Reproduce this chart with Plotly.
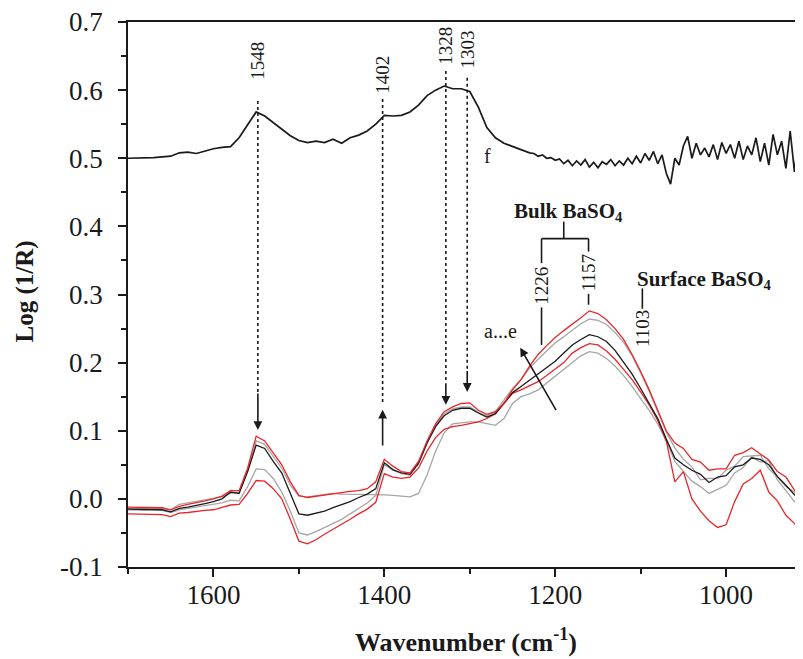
import plotly.graph_objects as go

# ---------------- data ----------------
wn = list(range(1700, 905, -10))  # 1700 ... 910

# a (gray) - lowest at 1157
curve_a = [-0.014, -0.014, -0.014, -0.013, -0.014, -0.016, -0.008, -0.006, -0.004, -0.002,
           0.000, 0.003, 0.008, 0.010, 0.040, 0.085, 0.080, 0.062, 0.045, 0.020,
           0.004, 0.003, 0.005, 0.007, 0.008, 0.007, 0.007, 0.006, 0.006, 0.006,
           0.006, 0.005, 0.004, 0.003, 0.008, 0.035, 0.070, 0.097, 0.110, 0.112,
           0.113, 0.113, 0.110, 0.108, 0.118, 0.140, 0.150, 0.154, 0.160, 0.170,
           0.180, 0.190, 0.200, 0.210, 0.216, 0.214, 0.206, 0.195, 0.181, 0.165,
           0.147, 0.130, 0.110, 0.085, 0.055, 0.040, 0.026, 0.018, 0.008, 0.014,
           0.020, 0.038, 0.046, 0.062, 0.054, 0.056, 0.028, 0.012, -0.004, -0.015]

# b (red)
curve_b = [-0.022, -0.022, -0.023, -0.022, -0.023, -0.026, -0.021, -0.020, -0.018, -0.017,
           -0.016, -0.013, -0.009, -0.008, 0.008, 0.027, 0.026, 0.015, 0.000, -0.030,
           -0.062, -0.066, -0.060, -0.052, -0.045, -0.038, -0.030, -0.022, -0.015, -0.005,
           0.037, 0.032, 0.030, 0.032, 0.045, 0.070, 0.090, 0.102, 0.106, 0.108,
           0.110, 0.113, 0.118, 0.125, 0.140, 0.155, 0.160, 0.166, 0.172, 0.181,
           0.190, 0.200, 0.214, 0.222, 0.228, 0.226, 0.217, 0.205, 0.190, 0.175,
           0.157, 0.138, 0.115, 0.085, 0.025, 0.040, 0.000, -0.018, -0.032, -0.042,
           -0.038, -0.004, 0.022, 0.030, 0.042, 0.010, -0.003, -0.024, -0.036, -0.053]

# c (black)
curve_c = [-0.015, -0.015, -0.016, -0.015, -0.016, -0.019, -0.014, -0.012, -0.010, -0.007,
           -0.004, 0.000, 0.010, 0.008, 0.040, 0.079, 0.074, 0.055, 0.038, 0.008,
           -0.022, -0.024, -0.021, -0.018, -0.013, -0.009, -0.004, 0.002, 0.007, 0.015,
           0.053, 0.043, 0.038, 0.036, 0.052, 0.082, 0.106, 0.122, 0.130, 0.133,
           0.133, 0.126, 0.120, 0.125, 0.140, 0.156, 0.165, 0.174, 0.183, 0.193,
           0.202, 0.214, 0.226, 0.234, 0.241, 0.238, 0.231, 0.218, 0.200, 0.183,
           0.162, 0.140, 0.118, 0.088, 0.060, 0.050, 0.042, 0.036, 0.024, 0.032,
           0.034, 0.047, 0.050, 0.060, 0.058, 0.050, 0.033, 0.020, 0.006, -0.004]

# d (gray)
curve_d = [-0.016, -0.017, -0.017, -0.016, -0.017, -0.020, -0.016, -0.014, -0.012, -0.010,
           -0.009, -0.006, -0.002, -0.003, 0.018, 0.044, 0.043, 0.030, 0.010, -0.018,
           -0.050, -0.053, -0.048, -0.042, -0.036, -0.030, -0.022, -0.014, -0.006, 0.005,
           0.050, 0.042, 0.037, 0.035, 0.052, 0.082, 0.108, 0.125, 0.132, 0.135,
           0.135, 0.127, 0.122, 0.128, 0.145, 0.162, 0.175, 0.192, 0.205, 0.217,
           0.229, 0.238, 0.248, 0.257, 0.264, 0.262, 0.256, 0.244, 0.230, 0.210,
           0.185, 0.158, 0.128, 0.098, 0.075, 0.058, 0.047, 0.028, 0.030, 0.030,
           0.042, 0.048, 0.062, 0.063, 0.064, 0.044, 0.032, 0.018, 0.010, -0.005]

# e (red) - highest at 1157
curve_e = [-0.012, -0.012, -0.013, -0.012, -0.013, -0.016, -0.011, -0.008, -0.006, -0.003,
           0.000, 0.004, 0.012, 0.012, 0.045, 0.092, 0.085, 0.068, 0.050, 0.025,
           0.005, 0.002, 0.004, 0.006, 0.008, 0.009, 0.011, 0.012, 0.015, 0.025,
           0.058, 0.048, 0.040, 0.038, 0.055, 0.085, 0.110, 0.128, 0.135, 0.140,
           0.141, 0.130, 0.124, 0.128, 0.140, 0.160, 0.175, 0.195, 0.212, 0.225,
           0.237, 0.247, 0.256, 0.266, 0.276, 0.272, 0.263, 0.250, 0.234, 0.212,
           0.187, 0.160, 0.130, 0.100, 0.082, 0.074, 0.058, 0.054, 0.042, 0.044,
           0.044, 0.064, 0.068, 0.075, 0.066, 0.057, 0.040, 0.032, 0.013, 0.000]

wn_f = list(range(1700, 1255, -10)) + list(range(1250, 905, -5))
curve_f = [0.500, 0.500, 0.501, 0.501, 0.502, 0.503, 0.508, 0.509, 0.507, 0.511,
           0.514, 0.516, 0.517, 0.530, 0.550, 0.568, 0.562, 0.552, 0.542, 0.533,
           0.526, 0.523, 0.525, 0.523, 0.528, 0.522, 0.530, 0.534, 0.540, 0.550,
           0.563, 0.562, 0.563, 0.568, 0.578, 0.592, 0.600, 0.606, 0.602, 0.602,
           0.598, 0.575, 0.545, 0.530, 0.522,
           0.517, 0.515, 0.512, 0.510, 0.508, 0.507, 0.503, 0.505, 0.500, 0.501,
           0.497, 0.499, 0.492, 0.497, 0.489, 0.496, 0.490, 0.498, 0.487, 0.494,
           0.486, 0.495, 0.491, 0.498, 0.489, 0.496, 0.490, 0.500, 0.492, 0.503,
           0.493, 0.507, 0.497, 0.510, 0.492, 0.505, 0.478, 0.462, 0.500, 0.490,
           0.518, 0.532, 0.500, 0.522, 0.505, 0.515, 0.502, 0.520, 0.498, 0.523,
           0.507, 0.520, 0.500, 0.525, 0.498, 0.518, 0.505, 0.530, 0.495, 0.522,
           0.490, 0.535, 0.505, 0.525, 0.485, 0.540, 0.480, 0.538, 0.520]

peak_wn = [1548, 1402, 1328, 1303]
peak_labels = ["1548", "1402", "1328", "1303"]

y_ticks = [-0.1, 0.0, 0.1, 0.2, 0.3, 0.4, 0.5, 0.6, 0.7]
y_ticktext = ["-0.1", "0.0", "0.1", "0.2", "0.3", "0.4", "0.5", "0.6", "0.7"]
x_ticks = [1600, 1400, 1200, 1000]
x_ticktext = ["1600", "1400", "1200", "1000"]

# ---------------- styles ----------------
RED = "#e8262a"
GRAY = "#a6a6a6"
BLACK = "#1a1a1a"
FONT = "Liberation Serif"

fig = go.Figure()
series = [
    (curve_a, GRAY, 1.3),
    (curve_d, GRAY, 1.3),
    (curve_b, RED, 1.3),
    (curve_c, BLACK, 1.3),
    (curve_e, RED, 1.3),
]
for vals, col, w in series:
    fig.add_trace(go.Scatter(x=wn, y=vals, mode="lines",
                             line=dict(color=col, width=w), showlegend=False,
                             hoverinfo="skip"))
fig.add_trace(go.Scatter(x=wn_f, y=curve_f, mode="lines",
                         line=dict(color=BLACK, width=1.7), showlegend=False,
                         hoverinfo="skip"))

shapes = []
annotations = []

# dotted guide lines + arrows for peaks
dot_top = [0.584, 0.587, 0.628, 0.618]
dot_bot = [0.157, 0.140, 0.172, 0.190]
arrow_tail = [0.157, 0.076, 0.172, 0.190]
arrow_tip = [0.101, 0.131, 0.138, 0.157]
label_y = [0.643, 0.622, 0.665, 0.660]
for w_, t, b, at, ah, ly, lab in zip(peak_wn, dot_top, dot_bot, arrow_tail,
                                      arrow_tip, label_y, peak_labels):
    shapes.append(dict(type="line", xref="x", yref="y", x0=w_, x1=w_, y0=t, y1=b,
                       line=dict(color=BLACK, width=1.6, dash="dot")))
    annotations.append(dict(x=w_, y=ah, ax=w_, ay=at, xref="x", yref="y",
                            axref="x", ayref="y", text="", showarrow=True,
                            arrowhead=2, arrowsize=1.1, arrowwidth=1.6,
                            arrowcolor=BLACK))
    annotations.append(dict(x=w_, y=ly, xref="x", yref="y", text=lab,
                            showarrow=False, textangle=-90,
                            font=dict(family=FONT, size=19, color=BLACK)))

# Bulk BaSO4 bracket
bl, br, bm = 1216, 1161, 1190
line_style = dict(color=BLACK, width=1.6)
for x0, x1, y0, y1 in [(bl, br, 0.382, 0.382), (bm, bm, 0.382, 0.407),
                       (bl, bl, 0.382, 0.346), (bl, bl, 0.281, 0.226),
                       (br, br, 0.382, 0.363), (br, br, 0.301, 0.285),
                       (1098, 1098, 0.309, 0.279)]:
    shapes.append(dict(type="line", xref="x", yref="y", x0=x0, x1=x1, y0=y0, y1=y1,
                       line=line_style))
annotations.append(dict(x=bl, y=0.312, xref="x", yref="y", text="1226",
                        showarrow=False, textangle=-90,
                        font=dict(family=FONT, size=19, color=BLACK)))
annotations.append(dict(x=br, y=0.332, xref="x", yref="y", text="1157",
                        showarrow=False, textangle=-90,
                        font=dict(family=FONT, size=19, color=BLACK)))
annotations.append(dict(x=1098, y=0.250, xref="x", yref="y", text="1103",
                        showarrow=False, textangle=-90,
                        font=dict(family=FONT, size=19, color=BLACK)))
annotations.append(dict(x=1184, y=0.421, xref="x", yref="y",
                        text="<b>Bulk BaSO<sub>4</sub></b>", showarrow=False,
                        font=dict(family=FONT, size=21, color=BLACK)))
annotations.append(dict(x=1025, y=0.321, xref="x", yref="y",
                        text="<b>Surface BaSO<sub>4</sub></b>", showarrow=False,
                        font=dict(family=FONT, size=21, color=BLACK)))
annotations.append(dict(x=1264, y=0.246, xref="x", yref="y", text="a...e",
                        showarrow=False,
                        font=dict(family=FONT, size=20, color=BLACK)))
annotations.append(dict(x=1241, y=0.222, ax=1198, ay=0.128, xref="x", yref="y",
                        axref="x", ayref="y", text="", showarrow=True,
                        arrowhead=2, arrowsize=1.1, arrowwidth=1.6,
                        arrowcolor=BLACK))
annotations.append(dict(x=1279, y=0.503, xref="x", yref="y", text="f",
                        showarrow=False,
                        font=dict(family=FONT, size=20, color=BLACK)))

# axis titles
annotations.append(dict(x=0.5, y=-0.134, xref="paper", yref="paper",
                        xanchor="center", yanchor="middle",
                        text="<b>Wavenumber (cm<sup>-1</sup>)</b>", showarrow=False,
                        font=dict(family=FONT, size=26, color=BLACK)))
annotations.append(dict(x=-0.153, y=0.505, xref="paper", yref="paper",
                        xanchor="center", yanchor="middle",
                        text="<b>Log (1/R)</b>", showarrow=False, textangle=-90,
                        font=dict(family=FONT, size=25, color=BLACK)))

# page body has an 8px default margin, so the figure is sized to fit inside it
fig.update_layout(
    width=795, height=651,
    margin=dict(l=120, r=0, t=14, b=92, autoexpand=False),
    paper_bgcolor="white", plot_bgcolor="white",
    shapes=shapes, annotations=annotations,
    font=dict(family=FONT, size=24, color=BLACK),
)
fig.update_xaxes(range=[1700, 910], showgrid=False, zeroline=False,
                 automargin=False, ticklabeloverflow="allow",
                 showline=True, linecolor=BLACK, linewidth=1.6, mirror=True,
                 ticks="outside", ticklen=8, tickwidth=1.6, tickcolor=BLACK,
                 tickvals=x_ticks, ticktext=x_ticktext,
                 tickfont=dict(family=FONT, size=27, color=BLACK),
                 ticklabelstandoff=-5,
                 minor=dict(tickmode="linear", tick0=900, dtick=100,
                            ticks="outside", ticklen=5, tickwidth=1.6,
                            tickcolor=BLACK))
fig.update_yaxes(range=[-0.1, 0.7], showgrid=False, zeroline=False,
                 automargin=False, ticklabeloverflow="allow",
                 showline=True, linecolor=BLACK, linewidth=1.6,
                 ticks="outside", ticklen=8, tickwidth=1.6, tickcolor=BLACK,
                 tickvals=y_ticks, ticktext=y_ticktext,
                 tickfont=dict(family=FONT, size=27, color=BLACK),
                 ticklabelstandoff=10,
                 minor=dict(tickmode="linear", tick0=-0.1, dtick=0.05,
                            ticks="outside", ticklen=5, tickwidth=1.6,
                            tickcolor=BLACK))

fig.write_html("out.html")
